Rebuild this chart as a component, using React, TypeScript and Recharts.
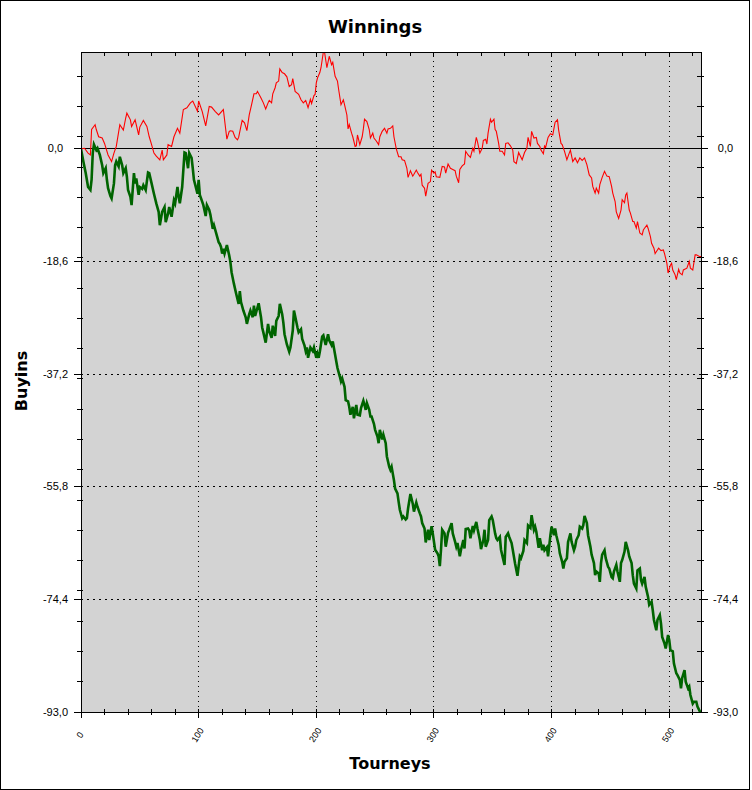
import React from "react";
import { LineChart, Line, XAxis, YAxis, CartesianGrid, ReferenceLine } from "recharts";

// canvas and plot box
const W = 752;
const H = 790;
const PL = 81;
const PR = 701;
const PT = 52;
const PB = 712;

const X_MAX = 527;
const Y_MIN = -93;
const Y_MAX = 16;

// axis ticks
const xMajor = [0, 100, 200, 300, 400, 500];
const xMinor = [20, 40, 60, 80, 120, 140, 160, 180, 220, 240, 260, 280, 320, 340, 360, 380, 420, 440, 460, 480, 520];
const yMajor = [-93, -74.4, -55.8, -37.2, -18.6, 0];
const yMinor = [-88, -83, -78, -73, -68, -63, -58, -53, -48, -43, -38, -33, -28, -23, -18, -13, -8, -3, 2, 7, 12];
const yGrid = [-18.6, -37.2, -55.8, -74.4];
const xGrid = [100, 200, 300, 400, 500];

// [tourney, buyins]
const redPoints: [number, number][] = [
  [0, 0], [3, 0.1], [6, -0.7], [8, -1.0], [9, 3.2], [12, 4.0], [13, 3.2], [15, 2.0], [18, 1.8], [20, 0.9],
  [23, -1.0], [26, -2.1], [28, -0.7], [30, 0.4], [33, 4.0], [36, 3.1], [38, 5.1], [39, 5.9], [42, 4.8], [43, 3.7],
  [46, 4.8], [49, 2.3], [50, 3.6], [53, 4.7], [56, 3.7], [58, 2.0], [60, 0.7], [62, -0.7], [64, -1.2], [67, -1.8],
  [69, -0.2], [70, -1.8], [73, -1.0], [74, 0.7], [77, 0.4], [79, 2.0], [82, 3.4], [84, 2.6], [87, 6.5], [90, 6.8],
  [93, 7.6], [95, 7.9], [99, 6.2], [100, 7.9], [103, 6.2], [106, 3.8], [109, 7.0], [111, 6.9], [114, 6.2], [117, 5.6],
  [121, 6.5], [124, 1.6], [126, 2.9], [127, 3.0], [129, 2.9], [131, 1.9], [133, 1.5], [134, 1.9], [136, 3.8], [137, 4.7],
  [139, 4.3], [141, 3.0], [143, 5.6], [145, 7.3], [147, 9.1], [149, 9.1], [150, 9.5], [153, 8.4], [155, 7.6], [157, 6.6],
  [159, 7.6], [160, 8.0], [162, 7.6], [163, 9.1], [165, 10.1], [166, 10.9], [168, 11.2], [169, 13.2], [171, 12.6], [173, 12.4],
  [175, 11.9], [177, 10.3], [179, 10.6], [180, 11.6], [182, 9.5], [185, 9.0], [187, 8.1], [189, 7.6], [191, 8.0], [193, 6.8],
  [195, 8.2], [196, 7.5], [198, 8.8], [199, 9.0], [200, 10.9], [201, 11.7], [203, 12.6], [204, 13.4], [206, 16.0], [207, 16.0],
  [209, 13.4], [211, 15.3], [213, 13.9], [214, 14.3], [216, 12.0], [218, 11.2], [219, 9.8], [221, 7.3], [223, 8.1], [224, 7.3],
  [226, 5.6], [227, 3.3], [228, 4.0], [230, 2.6], [231, 2.0], [233, 0.4], [234, 0.5], [235, 2.3], [237, 0.7], [239, 2.0],
  [240, 3.3], [241, 4.9], [243, 4.5], [245, 3.2], [246, 1.8], [248, 2.6], [249, 1.8], [251, 1.3], [253, 0.7], [254, 2.0],
  [256, 2.9], [258, 3.4], [260, 2.6], [261, 3.3], [263, 3.4], [265, 3.8], [266, 2.0], [268, 0], [270, -1.3], [272, -1.3],
  [273, -1.8], [275, -1.9], [277, -3.2], [278, -4.7], [280, -3.6], [282, -4.5], [283, -4.2], [285, -3.5], [286, -3.9], [288, -4.5],
  [289, -4.2], [290, -6.0], [292, -6.5], [293, -7.8], [295, -5.7], [297, -5.4], [298, -3.5], [300, -4.0], [301, -3.8], [302, -4.6],
  [305, -4.7], [307, -2.9], [309, -3.0], [310, -4.0], [312, -2.5], [314, -3.2], [316, -3.4], [318, -3.6], [319, -4.5], [321, -5.6],
  [322, -3.4], [324, -2.8], [326, -2.5], [327, -0.4], [329, -1.0], [331, -1.4], [333, 0.1], [334, -0.4], [336, 1.9], [337, 1.2],
  [339, -0.7], [341, 0.1], [342, 1.4], [344, 1.6], [345, 0.8], [346, 2.6], [348, 4.9], [349, 4.4], [351, 4.9], [352, 3.2],
  [353, 2.9], [355, 0.9], [356, -0.4], [358, -0.4], [360, -1.0], [361, 0.9], [363, 1.0], [365, 0.5], [367, -0.2], [368, -2.1],
  [370, -2.4], [372, -0.6], [373, -1.0], [375, -1.8], [377, -0.6], [379, 0.1], [380, 1.9], [382, 0.4], [383, 2.9], [385, 1.8],
  [387, 1.9], [388, 0.9], [390, 0.4], [391, -0.2], [393, -0.8], [394, 0.5], [395, 0.3], [397, 1.9], [399, 2.5], [401, 2.3],
  [403, 4.4], [405, 4.8], [406, 3.1], [408, 0.9], [409, 0.7], [411, -0.4], [413, -1.8], [415, -0.7], [416, -0.2], [418, -2.1],
  [420, -1.5], [422, -2.3], [424, -1.5], [426, -1.9], [428, -1.5], [430, -2.6], [432, -4.3], [434, -4.8], [435, -6.2], [437, -7.3],
  [438, -6.5], [440, -7.3], [441, -5.9], [443, -4.7], [445, -3.7], [447, -4.5], [449, -4.6], [451, -6.2], [452, -7.3], [454, -8.7],
  [455, -10.4], [457, -11.5], [459, -10.1], [460, -8.4], [462, -8.9], [463, -7.6], [464, -7.3], [466, -10.1], [467, -10.6], [469, -12.0],
  [470, -12.0], [472, -13.1], [473, -12.0], [475, -13.9], [477, -14.2], [478, -13.4], [479, -13.1], [481, -12.6], [482, -13.1], [484, -14.5],
  [485, -15.6], [487, -16.4], [488, -17.3], [489, -17.0], [491, -16.4], [493, -16.8], [495, -16.7], [496, -17.3], [498, -18.9], [499, -20.5],
  [501, -19.2], [502, -18.9], [503, -20.0], [505, -20.8], [506, -21.6], [508, -19.9], [509, -20.5], [511, -20.8], [512, -20.0], [515, -19.7],
  [517, -18.6], [518, -19.7], [520, -20.0], [522, -17.5], [523, -17.5], [526, -17.8], [527, -17.8],
];

const greenPoints: [number, number][] = [
  [0, 0], [2, -2.1], [4, -4.0], [6, -6.3], [8, -6.8], [9, -5.1], [10, -0.7], [11, 0.7], [13, -0.2], [14, 0.1],
  [16, -1.0], [18, -2.7], [19, -4.0], [21, -3.2], [22, -5.1], [23, -6.5], [25, -7.8], [26, -8.2], [28, -5.7], [29, -2.7],
  [30, -2.1], [32, -2.9], [33, -1.3], [35, -2.7], [36, -4.0], [38, -3.2], [39, -4.6], [40, -6.8], [42, -7.9], [43, -9.3],
  [45, -4.0], [46, -5.7], [47, -4.9], [49, -7.6], [50, -6.3], [52, -6.6], [53, -6.0], [55, -6.8], [57, -3.9], [58, -4.0],
  [60, -5.7], [62, -7.4], [64, -9.0], [66, -10.4], [67, -12.6], [69, -10.4], [71, -9.6], [72, -12.1], [74, -10.7], [75, -9.6],
  [77, -11.2], [79, -8.5], [80, -9.0], [82, -6.3], [83, -7.9], [84, -9.0], [86, -6.3], [88, -0.6], [89, -0.7], [91, -3.2],
  [92, -0.7], [94, -1.5], [95, -3.2], [96, -5.1], [99, -7.4], [100, -5.1], [101, -7.6], [103, -8.7], [104, -9.3], [106, -11.1],
  [107, -9.3], [109, -10.1], [110, -10.9], [112, -13.2], [113, -12.6], [115, -14.0], [117, -15.4], [118, -15.7], [119, -16.2], [120, -17.3],
  [121, -16.5], [122, -17.3], [124, -15.9], [126, -17.6], [127, -18.7], [128, -20.4], [130, -22.3], [132, -24.0], [134, -25.6], [135, -23.5],
  [136, -25.3], [138, -26.7], [140, -27.8], [141, -28.9], [143, -27.3], [144, -26.7], [146, -27.8], [147, -25.9], [148, -27.6], [151, -25.5],
  [153, -27.8], [154, -29.5], [155, -30.3], [157, -32.0], [159, -28.9], [160, -30.1], [162, -31.2], [163, -29.2], [165, -30.9], [166, -28.4],
  [168, -27.6], [169, -25.6], [171, -27.3], [172, -28.7], [173, -30.6], [175, -32.3], [177, -33.5], [178, -32.8], [180, -30.0], [181, -26.7],
  [182, -27.6], [184, -29.5], [185, -30.3], [187, -29.8], [188, -31.4], [190, -32.5], [191, -33.4], [192, -32.8], [193, -34.5], [195, -32.8],
  [197, -33.4], [198, -32.8], [200, -34.5], [201, -33.8], [202, -34.5], [203, -33.5], [205, -31.0], [206, -30.8], [208, -32.4], [210, -30.6],
  [211, -31.6], [213, -32.4], [214, -31.8], [216, -34.0], [217, -35.1], [218, -36.2], [220, -37.6], [221, -38.4], [222, -37.9], [224, -39.3],
  [225, -41.5], [227, -41.7], [228, -42.6], [229, -43.9], [231, -42.6], [232, -44.5], [234, -42.3], [235, -43.9], [237, -44.0], [238, -42.8],
  [240, -41.6], [241, -42.3], [242, -43.1], [243, -42.0], [245, -43.1], [246, -44.2], [247, -44.2], [249, -45.4], [250, -46.4], [252, -47.5],
  [253, -48.6], [254, -46.4], [256, -48.0], [257, -47.2], [259, -48.6], [260, -50.8], [262, -52.5], [263, -53.0], [264, -52.5], [266, -54.7],
  [267, -56.1], [269, -56.9], [270, -58.3], [271, -59.6], [273, -61.0], [274, -60.7], [276, -61.2], [277, -61.0], [278, -59.4], [280, -57.0],
  [282, -58.6], [283, -59.9], [285, -58.4], [286, -59.1], [288, -60.2], [289, -60.7], [290, -61.8], [292, -62.7], [293, -65.0], [295, -62.9],
  [296, -64.6], [298, -62.3], [299, -63.5], [301, -66.2], [303, -66.8], [304, -67.3], [305, -68.9], [306, -66.2], [307, -62.9], [309, -63.5],
  [310, -65.7], [312, -63.4], [313, -62.9], [315, -61.8], [316, -63.5], [318, -64.9], [319, -65.7], [320, -65.1], [322, -67.3], [323, -66.2],
  [325, -64.6], [326, -66.0], [327, -62.8], [329, -62.7], [330, -63.0], [331, -64.3], [333, -62.3], [334, -63.0], [336, -61.6], [337, -62.7],
  [339, -64.6], [340, -66.1], [342, -64.6], [343, -62.9], [344, -65.7], [346, -64.6], [347, -61.3], [349, -60.7], [350, -61.3], [352, -63.5],
  [353, -64.3], [354, -64.6], [356, -64.1], [357, -66.2], [359, -67.9], [360, -68.7], [361, -64.1], [363, -63.5], [364, -64.1], [366, -65.1],
  [367, -66.2], [369, -68.5], [370, -69.5], [371, -70.5], [373, -67.3], [374, -67.6], [376, -66.4], [377, -64.6], [379, -65.1], [380, -62.2],
  [382, -62.6], [383, -60.5], [385, -62.9], [386, -62.4], [387, -63.2], [389, -65.9], [390, -64.3], [392, -66.3], [393, -65.4], [394, -66.3],
  [396, -65.8], [397, -67.3], [399, -63.8], [400, -62.4], [402, -63.8], [403, -62.7], [404, -63.8], [406, -65.4], [407, -66.8], [409, -68.2],
  [410, -69.3], [411, -68.2], [413, -67.6], [414, -64.9], [416, -63.5], [417, -64.9], [419, -66.3], [420, -65.7], [421, -64.6], [423, -63.8],
  [424, -62.4], [426, -62.7], [427, -62.1], [428, -60.6], [430, -61.8], [431, -63.8], [433, -65.7], [434, -67.0], [436, -68.4], [437, -70.4],
  [438, -69.8], [440, -70.1], [441, -71.5], [442, -68.4], [443, -67.0], [445, -66.3], [446, -67.6], [448, -69.0], [449, -69.3], [451, -70.7],
  [452, -70.9], [453, -69.8], [455, -68.7], [456, -69.8], [458, -71.5], [459, -68.4], [460, -67.9], [462, -66.5], [463, -64.9], [465, -66.3],
  [466, -67.3], [468, -68.4], [469, -70.4], [470, -71.8], [472, -72.6], [473, -69.6], [475, -69.3], [476, -71.2], [477, -71.8], [479, -70.7],
  [480, -72.3], [482, -74.0], [483, -75.3], [485, -74.8], [486, -76.2], [487, -77.8], [489, -79.5], [490, -77.8], [492, -77.0], [493, -78.4],
  [494, -80.6], [496, -81.7], [497, -82.5], [499, -80.3], [500, -81.1], [501, -82.8], [503, -83.0], [504, -85.0], [506, -86.6], [507, -86.9],
  [509, -87.7], [510, -89.1], [511, -87.4], [513, -86.1], [514, -88.0], [516, -89.1], [517, -88.8], [518, -90.2], [520, -91.6], [521, -91.3],
  [523, -91.3], [524, -92.1], [526, -92.9], [527, -93.0],
];

const redData = redPoints.map(([t, v]) => ({ t, v }));
const greenData = greenPoints.map(([t, v]) => ({ t, v }));

const xTicks = [...xMajor, ...xMinor].sort((a, b) => a - b);
const yTicks = [...yMajor, ...yMinor].sort((a, b) => a - b);

const TICK_FONT = "'Liberation Sans', Arial, sans-serif";
const LABEL_FONT = "'DejaVu Sans', Verdana, sans-serif";

const fmt = (v: number) => v.toFixed(1).replace(".", ",");

const BottomTick = (props: any) => {
  const { x, payload } = props;
  const major = xMajor.includes(payload.value);
  const ly = 735;
  return (
    <g>
      <line x1={x} x2={x} y1={PB - 3} y2={PB + (major ? 6 : 3)} stroke="#000" shapeRendering="crispEdges" />
      {major && (
        <text
          x={x - 1}
          y={ly}
          transform={`rotate(-58 ${x - 1} ${ly})`}
          textAnchor="middle"
          dominantBaseline="central"
          fontSize={9}
          fontFamily={TICK_FONT}
          fill="#000"
        >
          {payload.value}
        </text>
      )}
    </g>
  );
};

const TopTick = (props: any) => {
  const { x } = props;
  return <line x1={x} x2={x} y1={PT} y2={PT + 4} stroke="#000" shapeRendering="crispEdges" />;
};

const LeftTick = (props: any) => {
  const { y, payload } = props;
  const major = yMajor.includes(payload.value);
  return (
    <g>
      {major ? (
        <line x1={PL - 7} x2={PL} y1={y} y2={y} stroke="#000" shapeRendering="crispEdges" />
      ) : (
        <line x1={PL - 4} x2={PL + 2} y1={y} y2={y} stroke="#000" shapeRendering="crispEdges" />
      )}
      {major && (
        <text x={55.5} y={y + 3.5} textAnchor="middle" fontSize={11} fontFamily={TICK_FONT} fill="#000">
          {fmt(payload.value)}
        </text>
      )}
    </g>
  );
};

const RightTick = (props: any) => {
  const { y, payload } = props;
  const major = yMajor.includes(payload.value);
  return (
    <g>
      {major ? (
        <line x1={PR} x2={PR + 7} y1={y} y2={y} stroke="#000" shapeRendering="crispEdges" />
      ) : (
        <line x1={PR - 4} x2={PR + 3} y1={y} y2={y} stroke="#000" shapeRendering="crispEdges" />
      )}
      {major && (
        <text x={725.5} y={y + 3.5} textAnchor="middle" fontSize={11} fontFamily={TICK_FONT} fill="#000">
          {fmt(payload.value)}
        </text>
      )}
    </g>
  );
};

export default function App() {
  return (
    <div style={{ position: "absolute", left: 0, top: 0, width: W, height: H, background: "#fff" }}>
      <div
        style={{
          position: "absolute",
          left: 0,
          top: 0,
          width: 750,
          height: H,
          border: "1px solid #000",
          boxSizing: "border-box",
        }}
      />
      <div style={{ position: "absolute", left: 0, top: 0 }}>
        <LineChart width={W} height={H} margin={{ top: 0, right: 0, bottom: 0, left: 0 }}>
          <CartesianGrid
            xAxisId="bottom"
            yAxisId="left"
            fill="#d3d3d3"
            stroke="none"
            horizontal={false}
            vertical={false}
          />
          <XAxis
            xAxisId="bottom"
            type="number"
            dataKey="t"
            domain={[0, X_MAX]}
            allowDataOverflow
            ticks={xTicks}
            interval={0}
            height={H - PB}
            axisLine={{ stroke: "#000", shapeRendering: "crispEdges" }}
            tickLine={false}
            tick={BottomTick}
          />
          <XAxis
            xAxisId="top"
            orientation="top"
            type="number"
            dataKey="t"
            domain={[0, X_MAX]}
            allowDataOverflow
            ticks={xTicks}
            interval={0}
            height={PT}
            axisLine={{ stroke: "#000", shapeRendering: "crispEdges" }}
            tickLine={false}
            tick={TopTick}
          />
          <YAxis
            yAxisId="left"
            type="number"
            domain={[Y_MIN, Y_MAX]}
            allowDataOverflow
            ticks={yTicks}
            interval={0}
            width={PL}
            axisLine={{ stroke: "#000", shapeRendering: "crispEdges" }}
            tickLine={false}
            tick={LeftTick}
          />
          <YAxis
            yAxisId="right"
            orientation="right"
            type="number"
            domain={[Y_MIN, Y_MAX]}
            allowDataOverflow
            ticks={yTicks}
            interval={0}
            width={W - PR}
            axisLine={{ stroke: "#000", shapeRendering: "crispEdges" }}
            tickLine={false}
            tick={RightTick}
          />
          {yGrid.map((v) => (
            <ReferenceLine
              key={`h${v}`}
              xAxisId="bottom"
              yAxisId="left"
              y={v}
              stroke="#000"
              strokeDasharray="2 4"
              shapeRendering="crispEdges"
            />
          ))}
          {xGrid.map((v) => (
            <ReferenceLine
              key={`v${v}`}
              xAxisId="bottom"
              yAxisId="left"
              x={v}
              stroke="#000"
              strokeDasharray="1 4"
              shapeRendering="crispEdges"
            />
          ))}
          <ReferenceLine xAxisId="bottom" yAxisId="left" y={0} stroke="#000" shapeRendering="crispEdges" />
          <Line
            data={redData}
            xAxisId="top"
            yAxisId="right"
            dataKey="v"
            type="linear"
            stroke="#ff0000"
            strokeWidth={1.1}
            dot={false}
            isAnimationActive={false}
          />
          <Line
            data={greenData}
            xAxisId="bottom"
            yAxisId="left"
            dataKey="v"
            type="linear"
            stroke="#006400"
            strokeWidth={2.6}
            dot={false}
            isAnimationActive={false}
          />
        </LineChart>
      </div>
      <svg width={W} height={H} style={{ position: "absolute", left: 0, top: 0, pointerEvents: "none" }}>
        <text x={375} y={33} textAnchor="middle" fontSize={18} fontWeight="bold" fontFamily={LABEL_FONT} fill="#000">
          Winnings
        </text>
        <text x={390} y={769} textAnchor="middle" fontSize={16} fontWeight="bold" fontFamily={LABEL_FONT} fill="#000">
          Tourneys
        </text>
        <text
          x={27}
          y={381}
          transform="rotate(-90 27 381)"
          textAnchor="middle"
          fontSize={16}
          fontWeight="bold"
          fontFamily={LABEL_FONT}
          fill="#000"
        >
          Buyins
        </text>
      </svg>
    </div>
  );
}
